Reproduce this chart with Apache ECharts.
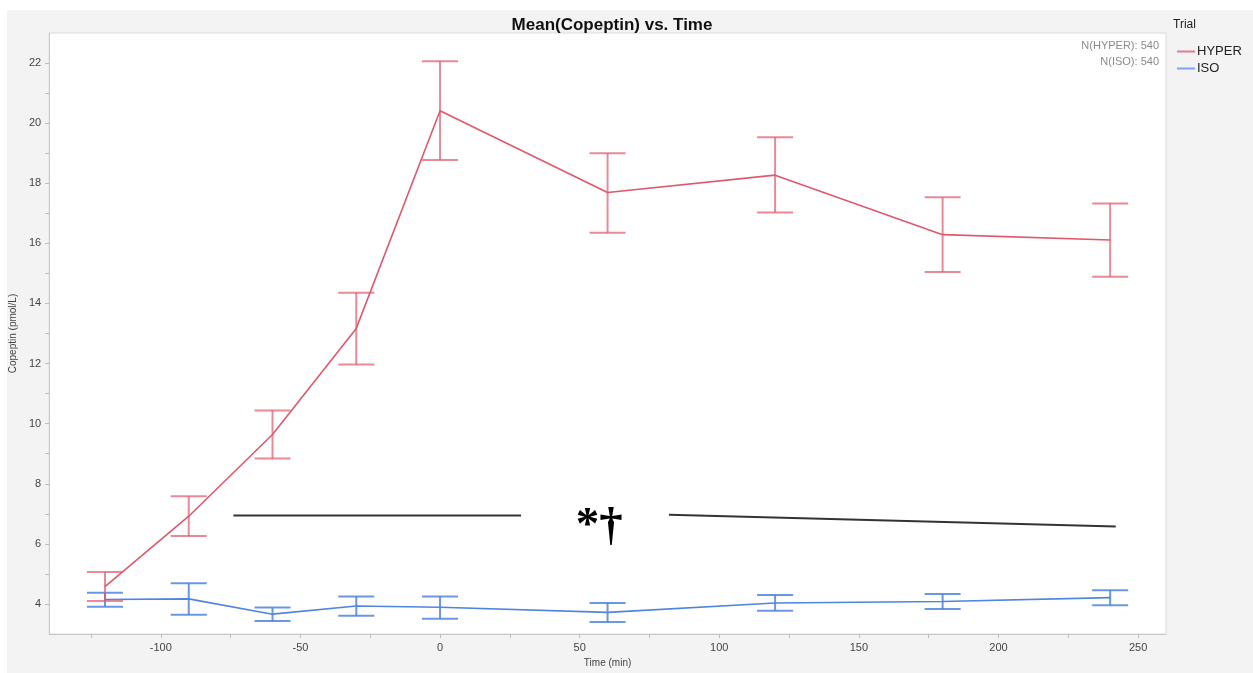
<!DOCTYPE html>
<html>
<head>
<meta charset="utf-8">
<title>Mean(Copeptin) vs. Time</title>
<script src="https://cdn.jsdelivr.net/npm/echarts@6/dist/echarts.min.js"></script>
<style>
  html, body { margin: 0; padding: 0; background: #ffffff; }
  #chart { width: 1253px; height: 673px; }
</style>
</head>
<body>
<div id="chart"></div>
<script>
// Sampling times (min relative to end of infusion)
const times = [-120, -90, -60, -30, 0, 60, 120, 180, 240];

// HYPER trial: mean copeptin and error bar limits (pmol/L)
const hyperMean = [4.58, 6.92, 9.64, 13.17, 20.41, 17.69, 18.27, 16.29, 16.11];
const hyperHigh = [5.06, 7.58, 10.44, 14.36, 22.06, 19.00, 19.53, 17.53, 17.33];
const hyperLow  = [4.10, 6.26, 8.84, 11.97, 18.77, 16.35, 17.03, 15.05, 14.89];

// ISO trial
const isoMean = [4.15, 4.17, 3.66, 3.93, 3.89, 3.72, 4.03, 4.08, 4.21];
const isoHigh = [4.37, 4.69, 3.88, 4.25, 4.25, 4.03, 4.30, 4.33, 4.46];
const isoLow  = [3.91, 3.64, 3.43, 3.61, 3.51, 3.40, 3.77, 3.83, 3.96];

// Axis ticks
const xLabels = [-100, -50, 0, 50, 100, 150, 200, 250];
const xTicks = [-125, -100, -75, -50, -25, 0, 25, 50, 75, 100, 125, 150, 175, 200, 225, 250];
const yLabels = [4, 6, 8, 10, 12, 14, 16, 18, 20, 22];
const yTicks = [4, 5, 6, 7, 8, 9, 10, 11, 12, 13, 14, 15, 16, 17, 18, 19, 20, 21, 22];

// Significance bracket and marker (data coordinates)
const sigLineLeft = [[-74, 6.94], [29, 6.94]];
const sigLineRight = [[82, 6.97], [242, 6.58]];
const sigMark = [[57, 6.58]];
const sigText = '*\u2020';

const nCounts = [['N(HYPER)', 540], ['N(ISO)', 540]];

const RED = '#e0586b';
const RED_BAR = 'rgba(224, 88, 107, 0.7)';
const BLUE = '#4f84e0';
const BLUE_BAR = 'rgba(79, 132, 224, 0.85)';
const FONT = '"Liberation Sans", Arial, Helvetica, sans-serif';

function zip3(a, b, c) { return a.map((v, i) => [v, b[i], c[i]]); }

function errorBars(color) {
  return function (params, api) {
    const x = api.value(0);
    const lo = api.coord([x, api.value(1)]);
    const hi = api.coord([x, api.value(2)]);
    const w = 18;
    const st = { stroke: color, lineWidth: 2 };
    return {
      type: 'group',
      children: [
        { type: 'line', shape: { x1: hi[0], y1: hi[1], x2: lo[0], y2: lo[1] }, style: st },
        { type: 'line', shape: { x1: hi[0] - w, y1: hi[1], x2: hi[0] + w, y2: hi[1] }, style: st },
        { type: 'line', shape: { x1: lo[0] - w, y1: lo[1], x2: lo[0] + w, y2: lo[1] }, style: st }
      ]
    };
  };
}

const chart = echarts.init(document.getElementById('chart'), null, { renderer: 'canvas' });

const option = {
  animation: false,
  backgroundColor: '#ffffff',
  textStyle: { fontFamily: FONT },
  graphic: [
    { type: 'rect', z: -10, shape: { x: 7, y: 10, width: 1246, height: 663 }, style: { fill: '#f3f3f3' } },
    { type: 'text', left: 1173, top: 19, style: { text: 'Trial', font: '12px ' + FONT, fill: '#222' } },
    {
      type: 'text', right: 1253 - 1159, top: 40,
      style: { text: nCounts[0][0] + ': ' + nCounts[0][1], font: '11px ' + FONT, fill: '#8a8a8a', align: 'right' }
    },
    {
      type: 'text', right: 1253 - 1159, top: 56,
      style: { text: nCounts[1][0] + ': ' + nCounts[1][1], font: '11px ' + FONT, fill: '#8a8a8a', align: 'right' }
    }
  ],
  title: {
    text: 'Mean(Copeptin) vs. Time',
    left: 607, top: 12, textAlign: 'center',
    textStyle: { fontSize: 17, fontWeight: 'bold', color: '#111', fontFamily: FONT }
  },
  legend: {
    left: 1172, top: 40, orient: 'vertical', itemGap: 4,
    itemWidth: 18, itemHeight: 2, icon: 'rect',
    textStyle: { fontSize: 13, color: '#222', fontFamily: FONT, padding: [0, 0, 0, -3] },
    data: [
      { name: 'HYPER', itemStyle: { color: '#e57a88' } },
      { name: 'ISO', itemStyle: { color: '#7ea3e8' } }
    ]
  },
  grid: {
    left: 49, right: 87, top: 33, bottom: 37,
    show: true, backgroundColor: '#ffffff', borderColor: '#dcdcdc', borderWidth: 1
  },
  xAxis: {
    type: 'value', min: -140, max: 260,
    name: 'Time (min)', nameLocation: 'middle', nameGap: 24,
    nameTextStyle: { fontSize: 10, color: '#444', fontFamily: FONT },
    axisLine: { show: true, onZero: false, lineStyle: { color: '#c8c8c8' } },
    axisTick: { show: true, length: 4, customValues: xTicks, lineStyle: { color: '#bdbdbd' } },
    axisLabel: { customValues: xLabels, fontSize: 11, color: '#444', margin: 8, fontFamily: FONT },
    splitLine: { show: false }
  },
  yAxis: {
    type: 'value', min: 3, max: 23,
    name: 'Copeptin (pmol/L)', nameLocation: 'middle', nameGap: 30, nameRotate: 90,
    nameTextStyle: { fontSize: 10, color: '#444', fontFamily: FONT },
    axisLine: { show: true, onZero: false, lineStyle: { color: '#c8c8c8' } },
    axisTick: { show: true, length: 4, customValues: yTicks, lineStyle: { color: '#bdbdbd' } },
    axisLabel: { customValues: yLabels, fontSize: 11, color: '#444', margin: 8, fontFamily: FONT },
    splitLine: { show: false }
  },
  series: [
    {
      name: 'ISO-err', type: 'custom', renderItem: errorBars(BLUE_BAR),
      data: zip3(times, isoLow, isoHigh), silent: true, z: 2
    },
    {
      name: 'ISO', type: 'line', color: BLUE, showSymbol: false, symbol: 'none',
      lineStyle: { color: BLUE, width: 1.6 },
      data: times.map((t, i) => [t, isoMean[i]]), z: 3
    },
    {
      name: 'HYPER-err', type: 'custom', renderItem: errorBars(RED_BAR),
      data: zip3(times, hyperLow, hyperHigh), silent: true, z: 4
    },
    {
      name: 'HYPER', type: 'line', color: RED, showSymbol: false, symbol: 'none',
      lineStyle: { color: RED, width: 1.6 },
      data: times.map((t, i) => [t, hyperMean[i]]), z: 5
    },
    {
      name: 'sig-left', type: 'line', symbol: 'none', silent: true,
      lineStyle: { color: '#333', width: 2 }, data: sigLineLeft, z: 6
    },
    {
      name: 'sig-right', type: 'line', symbol: 'none', silent: true,
      lineStyle: { color: '#333', width: 2 }, data: sigLineRight, z: 6
    },
    {
      name: 'sig-mark', type: 'custom', silent: true, z: 7,
      data: sigMark,
      renderItem: function (params, api) {
        const p = api.coord([api.value(0), api.value(1)]);
        return {
          type: 'text', x: p[0], y: p[1],
          style: {
            text: sigText, fill: '#000',
            font: 'bold 47px "Liberation Serif", "DejaVu Serif", serif',
            align: 'center', verticalAlign: 'middle'
          }
        };
      }
    }
  ]
};

chart.setOption(option);
</script>
</body>
</html>
